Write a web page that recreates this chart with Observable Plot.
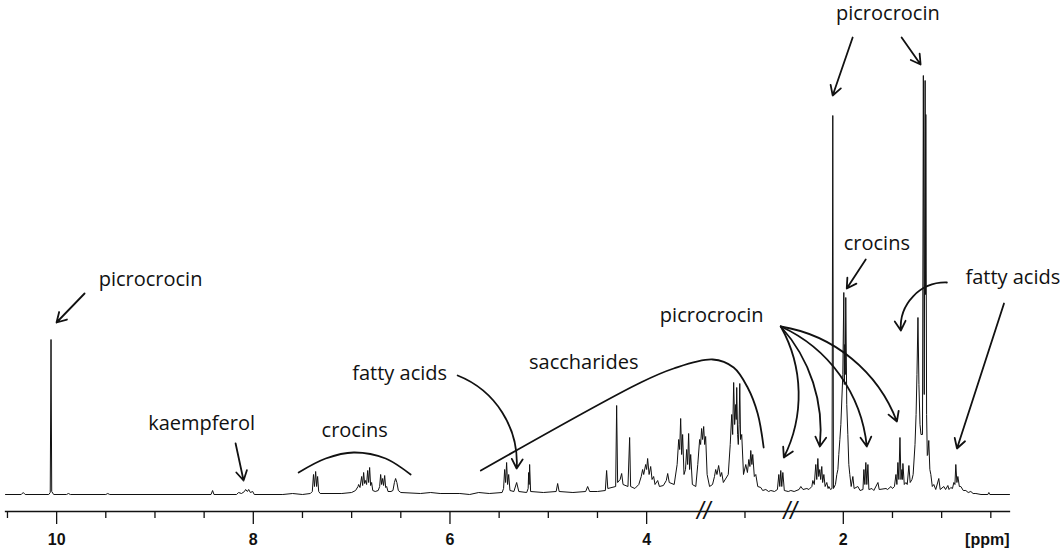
<!DOCTYPE html>
<html><head><meta charset="utf-8">
<script src="https://cdn.jsdelivr.net/npm/d3@7"></script>
<script src="https://cdn.jsdelivr.net/npm/@observablehq/plot@0.6"></script>
<style>body{margin:0;background:#fff}</style>
</head><body><div id="chart"></div>
<script>
// 1H NMR spectrum trace: [chemical shift (ppm), intensity (arbitrary units)]
const spectrum = [
[10.52,0],[10.36,0],[10.34,2],[10.32,0],
[10.08,0],[10.065,2],[10.057,155],[10.05,3],[10.03,0],
[9.9,0],[9.88,1],[9.86,0],[9.5,0],[9.48,1],[9.46,0],
[8.43,0],[8.414,4],[8.40,0],
[8.17,0],[8.15,2],[8.12,1],[8.09,3],[8.078,5],[8.06,3],[8.047,5],[8.03,2],[8.006,3],[7.99,0],
[7.7,0],[7.6,1],[7.5,0],
[7.42,1],[7.40,3],[7.388,20],[7.378,8],[7.366,23],[7.356,8],[7.346,18],[7.335,3],[7.32,1],
[7.1,1],[7.0,2],[6.96,4],[6.935,8],[6.929,10],[6.915,7],[6.898,18],[6.888,9],[6.878,22],[6.868,11],[6.858,14],[6.848,10],[6.837,24],[6.827,12],[6.817,27],[6.807,9],[6.797,12],[6.785,4],[6.76,3],
[6.73,4],[6.715,8],[6.705,20],[6.695,10],[6.685,16],[6.675,9],[6.664,19],[6.654,7],[6.644,8],[6.63,3],[6.6,3],
[6.58,4],[6.565,12],[6.553,16],[6.54,12],[6.525,4],[6.5,2],
[6.3,1],[6.196,2],[6.1,1],[5.9,1],[5.8,0],[5.708,2],[5.6,1],
[5.47,2],[5.455,6],[5.444,25],[5.434,12],[5.424,32],[5.414,10],[5.403,20],[5.39,4],
[5.35,3],[5.322,12],[5.30,3],
[5.22,2],[5.205,6],[5.2,22],[5.195,10],[5.19,30],[5.18,3],
[5.05,2],[4.92,3],[4.905,11],[4.89,3],
[4.75,2],[4.62,3],[4.60,8],[4.58,3],[4.5,3],
[4.42,4],[4.407,24],[4.395,6],[4.315,8],[4.305,89],[4.295,12],[4.27,15],[4.254,21],[4.24,10],[4.19,8],[4.173,57],[4.163,8],
[4.12,6],[4.08,10],[4.055,18],[4.041,25],[4.03,20],[4.010,30],[4.0,25],[3.990,36],[3.975,20],[3.959,28],[3.945,15],[3.929,18],[3.915,10],[3.888,14],[3.87,8],[3.83,9],[3.80,14],[3.786,21],[3.77,12],[3.72,10],
[3.69,30],[3.674,55],[3.664,45],[3.654,76],[3.644,40],[3.634,60],[3.62,20],[3.605,25],[3.593,45],[3.583,30],[3.573,61],[3.563,25],[3.552,40],[3.535,10],[3.50,8],
[3.48,30],[3.461,55],[3.451,50],[3.441,66],[3.431,55],[3.420,68],[3.41,50],[3.400,58],[3.385,20],[3.36,8],[3.33,10],
[3.31,18],[3.298,25],[3.285,20],[3.268,29],[3.25,18],[3.237,22],[3.22,12],[3.17,20],
[3.15,50],[3.135,80],[3.125,60],[3.115,112],[3.105,70],[3.094,90],[3.089,75],[3.084,107],[3.075,60],[3.068,50],[3.060,70],[3.053,111],[3.045,55],[3.033,60],[3.015,20],
[2.992,30],[2.975,22],[2.961,35],[2.95,28],[2.941,44],[2.93,30],[2.921,40],[2.905,18],[2.890,20],[2.87,8],
[2.839,7],[2.82,4],[2.788,5],[2.76,3],[2.737,4],[2.70,3],
[2.67,5],[2.656,20],[2.646,8],[2.636,24],[2.626,8],[2.615,22],[2.60,4],
[2.56,3],[2.534,4],[2.50,3],[2.45,5],[2.432,8],[2.41,5],[2.371,6],[2.35,5],
[2.32,8],[2.310,14],[2.295,10],[2.280,30],[2.27,15],[2.259,36],[2.25,18],[2.239,25],[2.23,15],[2.219,28],[2.21,12],[2.198,20],[2.185,8],[2.168,12],[2.155,6],[2.147,8],[2.13,5],
[2.115,6],[2.107,379],[2.10,6],
[2.08,10],[2.066,20],[2.055,25],[2.046,40],[2.035,55],[2.025,70],[2.005,120],[1.995,202],[1.99,110],[1.985,150],[1.98,120],[1.975,197],[1.965,90],[1.954,60],[1.944,30],[1.934,20],[1.92,8],[1.903,18],[1.89,6],
[1.852,8],[1.83,4],[1.80,5],[1.791,25],[1.781,10],[1.771,32],[1.761,10],[1.750,30],[1.74,5],
[1.709,6],[1.69,4],[1.648,12],[1.635,5],[1.566,6],[1.55,5],[1.515,8],[1.50,6],
[1.48,8],[1.465,20],[1.455,10],[1.445,32],[1.435,15],[1.424,57],[1.414,15],[1.404,25],[1.399,15],[1.394,31],[1.38,10],[1.363,12],[1.35,10],[1.333,29],[1.32,12],[1.302,15],[1.29,20],
[1.271,50],[1.26,80],[1.251,120],[1.241,177],[1.231,110],[1.22,70],[1.210,60],[1.195,60],
[1.186,419],[1.177,100],[1.168,414],[1.164,200],[1.161,380],[1.153,80],[1.146,39],[1.141,40],[1.131,54],[1.12,25],[1.110,20],[1.095,8],
[1.080,10],[1.06,5],[1.029,16],[1.015,5],[0.978,8],[0.96,5],[0.937,9],[0.925,5],[0.907,7],[0.89,6],
[0.876,12],[0.865,10],[0.856,30],[0.845,12],[0.835,18],[0.82,8],[0.805,8],[0.78,4],
[0.754,4],[0.73,2],[0.703,3],[0.68,1],[0.652,1],[0.6,0],[0.53,0],[0.52,2],[0.51,0],[0.31,0]
];

// axis ticks
const majorTicks = [10, 8, 6, 4, 2];
const minorTicks = [10.5, 9.5, 9, 8.5, 7.5, 7, 6.5, 5.5, 5, 4.5, 3, 1.5, 1, 0.5];
const axisBreaks = [3.42, 2.54];
const unitLabel = ["[ppm]"];

// annotation labels (position in ppm / intensity units)
const labels = [
  {label: "picrocrocin", ppm: 9.045, h: 215},
  {label: "picrocrocin", ppm: 1.547, h: 481},
  {label: "crocins", ppm: 1.659, h: 251},
  {label: "fatty acids", ppm: 0.276, h: 217},
  {label: "picrocrocin", ppm: 3.338, h: 179},
  {label: "saccharides", ppm: 4.640, h: 132},
  {label: "fatty acids", ppm: 6.512, h: 121},
  {label: "kaempferol", ppm: 8.526, h: 71},
  {label: "crocins", ppm: 6.969, h: 64}
];

// annotation arrows
const arrows = [
  {x1: 9.716, y1: 201, x2: 10.001, y2: 172, bend: 0},
  {x1: 1.905, y1: 457, x2: 2.108, y2: 399, bend: 0},
  {x1: 1.407, y1: 457, x2: 1.214, y2: 430, bend: 0},
  {x1: 1.772, y1: 235, x2: 1.965, y2: 206, bend: 0},
  {x1: 0.366, y1: 191, x2: 0.844, y2: 46, bend: 0},
  {x1: 8.180, y1: 51, x2: 8.099, y2: 14, bend: 0},
  {x1: 0.947, y1: 212, x2: 1.415, y2: 164, bend: -48},
  {x1: 5.922, y1: 119, x2: 5.322, y2: 26, bend: 36},
  {x1: 2.636, y1: 168, x2: 2.605, y2: 37, bend: 28},
  {x1: 2.636, y1: 168, x2: 2.239, y2: 48, bend: 24},
  {x1: 2.636, y1: 168, x2: 1.761, y2: 48, bend: 30},
  {x1: 2.636, y1: 168, x2: 1.455, y2: 73, bend: 30}
];

// curved brackets without arrowheads
const saccharideCurve = [[5.686,24],[4.060,112],[3.725,126],[3.328,135],[3.115,127],[2.973,107],[2.871,81],[2.810,47]];
const crocinArc = [[7.539,22],[7.264,36],[6.979,42],[6.654,36],[6.40,20]];

const annFont = "'Open Sans', 'Noto Sans', sans-serif";

const chart = Plot.plot({
  width: 1062, height: 550,
  marginLeft: 5, marginRight: 53, marginTop: 0, marginBottom: 39,
  style: {fontFamily: "'Liberation Sans', Arial, sans-serif", fontSize: "16px", fontWeight: "bold", color: "#111", background: "#fff"},
  x: {domain: [10.52, 0.31]},
  y: {domain: [0, 494], range: [494, 0], axis: null},
  marks: [
    Plot.frame({anchor: "bottom", strokeWidth: 1.3}),
    Plot.axisX({ticks: minorTicks, tickSize: 7, tickFormat: () => "", label: null, strokeWidth: 1.3}),
    Plot.axisX({ticks: majorTicks, tickSize: 13, tickPadding: 9, label: null, strokeWidth: 1.3, tickFormat: d => String(d)}),
    Plot.text(axisBreaks, {x: d => d, y: () => -17, text: () => "//", fontSize: 24, fontWeight: "normal", fontStyle: "italic"}),
    Plot.text(unitLabel, {x: () => 0.31, y: () => -45, text: d => d, textAnchor: "end"}),
    Plot.line(spectrum, {x: d => d[0], y: d => d[1], stroke: "#111", strokeWidth: 1}),
    Plot.line(saccharideCurve, {x: d => d[0], y: d => d[1], curve: "catmull-rom", stroke: "#111", strokeWidth: 1.8}),
    Plot.line(crocinArc, {x: d => d[0], y: d => d[1], curve: "catmull-rom", stroke: "#111", strokeWidth: 1.8}),
    ...arrows.map(a => Plot.arrow([a], {x1: "x1", y1: "y1", x2: "x2", y2: "y2", bend: a.bend, stroke: "#111", strokeWidth: 1.8, headLength: 9})),
    Plot.text(labels, {x: "ppm", y: "h", text: "label", fontFamily: annFont, fontSize: 20, fontWeight: "normal", fill: "#111"})
  ]
});
document.getElementById("chart").appendChild(chart);
</script>
</body></html>
